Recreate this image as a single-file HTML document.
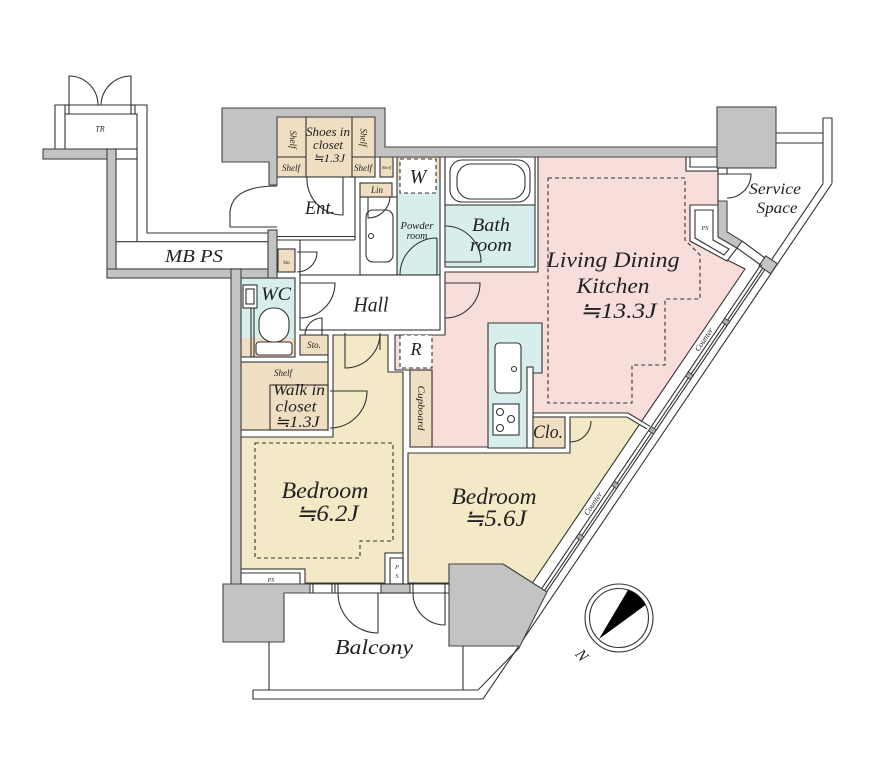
<!DOCTYPE html>
<html><head><meta charset="utf-8"><title>Floor plan</title>
<style>
html,body{margin:0;padding:0;background:#fff;width:888px;height:762px;overflow:hidden}
svg{display:block}
text{font-family:"Liberation Serif","Noto Serif CJK SC","Noto Sans CJK JP",serif;font-style:italic;fill:#222}
.l{fill:none;stroke:#333;stroke-width:1.1}
.w{fill:#fff;stroke:#333;stroke-width:1.1}
.g{fill:#c3c3c3;stroke:#444;stroke-width:1.1}
.pk{fill:#f7dedb;stroke:#333;stroke-width:1.1}
.bg{fill:#f4e9c7;stroke:#333;stroke-width:1.1}
.tn{fill:#efdec1;stroke:#333;stroke-width:1.1}
.lb{fill:#d7eeec;stroke:#333;stroke-width:1.1}
.d{fill:none;stroke:#333;stroke-width:1.1;stroke-dasharray:4 3}
.dw{fill:#fff;stroke:#333;stroke-width:1.1;stroke-dasharray:4 3}
</style></head><body>
<svg width="888" height="762" viewBox="0 0 888 762" xmlns="http://www.w3.org/2000/svg">

<!-- diagonal facade band -->
<g transform="translate(642.5,420) rotate(-55.9)">
  <line class="l" x1="-196" y1="11" x2="194" y2="11"/>
  <line class="l" x1="-196" y1="14.5" x2="194" y2="14.5"/>
  <line class="l" x1="-196" y1="17" x2="297.3" y2="17"/>
  <line class="l" x1="-320.2" y1="24.3" x2="302.3" y2="24.3"/>
  <rect x="-134.5" y="11" width="5" height="6" fill="#aaa" stroke="#333" stroke-width="0.8"/>
  <rect x="-71.5" y="11" width="5" height="6" fill="#aaa" stroke="#333" stroke-width="0.8"/>
  <rect x="-5.5" y="11" width="5" height="6" fill="#aaa" stroke="#333" stroke-width="0.8"/>
  <rect x="60.5" y="11" width="5" height="6" fill="#aaa" stroke="#333" stroke-width="0.8"/>
  <rect x="125.5" y="11" width="5" height="6" fill="#aaa" stroke="#333" stroke-width="0.8"/>
  <rect x="193" y="10" width="12" height="14" class="g"/>
  <text x="101" y="8.5" font-size="8" text-anchor="middle">Counter</text>
  <text x="-97" y="8.5" font-size="8" text-anchor="middle">Counter</text>
</g>

<!-- service space outer walls -->
<path class="l" d="M823,183 V118 H832 V183"/>
<path class="l" d="M776,133 H823 M776,143 H823"/>
<path class="l" d="M742,241 L765,258 M737,248 L762,266"/>

<!-- balcony -->
<path class="l" d="M269,642 V690 M463,646 V690"/>
<path class="l" d="M253,690 H478 L520,647"/>
<path class="l" d="M253,690 V699 H483.3"/>

<!-- top-left shaft -->
<path class="l" d="M55,149 V105 H147 V233 H268"/>
<path class="l" d="M65,149 V114 H137 V241.7"/>
<rect class="w" x="116" y="241.7" width="152" height="27.3"/>
<rect class="w" x="116" y="149" width="21" height="10"/>
<rect class="w" x="65" y="105" width="4" height="9"/>
<rect class="w" x="131" y="105" width="4" height="9"/>
<path class="l" d="M69,105 V76 A29,29 0 0 1 98,105"/>
<path class="l" d="M131,105 V76 A30,30 0 0 0 101,105"/>

<!-- rooms -->
<polygon class="pk" points="538,157 686,157 686,171 718,171 718,205 690,205 690,241 745,269 641.6,421.2 628,413 533,413 533,447 432,447 432,370 395,370 395,335 445,335 445,272 538,272"/>
<path class="d" d="M548,178 H685 V240 L700,255 V299 H665 V365 H632 V403 H548 Z"/>
<polygon class="bg" points="408,453 570,453 570,417 627,417 639.4,424.5 532.5,582.8 503,564 449,564 449,583 408,583"/>
<path class="l" d="M641.6,421.2 L650,426.3 M639.4,424.5 L647,429"/>
<polygon class="bg" points="241,437 333,437 333,335 388,335 388,372 403,372 403,583 241,583"/>
<path class="l" d="M328,335 V430"/>
<path class="d" d="M255,443 H393 V541 H360 V558 H255 Z"/>

<!-- kitchen -->
<path class="lb" d="M488,323 H542 V373 H533 V448 H488 Z"/>
<rect class="w" x="527" y="367" width="6" height="81"/>
<rect class="w" x="495" y="343" width="26" height="50" rx="4"/>
<circle class="w" cx="514" cy="369" r="2.5"/>
<rect class="w" x="493" y="404" width="26" height="31"/>
<circle class="w" cx="500" cy="412" r="3.5"/>
<circle class="w" cx="511" cy="419" r="3.5"/>
<circle class="w" cx="500" cy="428" r="3.5"/>

<!-- Clo / cupboard / R -->
<rect class="tn" x="533" y="417" width="32" height="31"/>
<rect class="tn" x="410" y="370" width="22" height="77"/>
<rect class="dw" x="400" y="335" width="32" height="33"/>

<!-- bath -->
<rect class="lb" x="445" y="157" width="90" height="110"/>
<rect class="w" x="445" y="157" width="90" height="48"/>
<rect class="w" x="450" y="160" width="80" height="42" rx="12"/>
<rect class="w" x="457" y="164" width="68" height="35" rx="14"/>

<!-- powder -->
<rect x="397" y="157" width="43" height="23" fill="#efdec1"/>
<rect x="397" y="180" width="43" height="95" fill="#d7eeec"/>
<rect class="l" x="397" y="157" width="43" height="118"/>
<rect class="dw" x="400" y="159" width="36" height="34"/>

<!-- washroom -->
<rect class="w" x="360" y="197" width="37" height="78"/>
<rect class="tn" x="360" y="183" width="32" height="14"/>
<rect class="w" x="366" y="210" width="27" height="52" rx="7"/>
<circle class="w" cx="371" cy="236" r="2.5"/>
<rect class="tn" x="380" y="157" width="13" height="20"/>

<!-- shoe closet -->
<rect class="tn" x="277" y="117" width="98" height="60"/>
<path class="l" d="M306,117 V177 M352,117 V177 M277,157 H306 M352,157 H375"/>

<!-- Ent / corridor / hall -->
<path class="l" d="M355,177 V240 M277,236.5 H355 M277,240 H355 M300,240 V278"/>
<rect class="tn" x="278" y="249" width="17" height="23"/>
<rect class="w" x="300" y="275" width="140" height="55"/>

<!-- WC -->
<rect x="241" y="278" width="54" height="60" fill="#d7eeec"/>
<rect x="241" y="338" width="54" height="19" fill="#efdec1"/>
<rect class="l" x="241" y="278" width="54" height="79"/>
<rect class="w" x="243" y="285" width="14" height="23"/>
<rect class="l" x="246" y="289" width="8" height="15"/>
<path class="l" d="M251,308 V357 M254,308 V357"/>
<rect class="w" x="259" y="308" width="30" height="34" rx="14"/>
<rect class="w" x="256" y="342" width="36" height="13" rx="3"/>
<rect class="tn" x="300" y="335" width="28" height="20"/>

<!-- WIC -->
<rect class="tn" x="241" y="362" width="87" height="68"/>
<rect class="l" x="270" y="385" width="58" height="45"/>

<!-- PS boxes -->
<rect class="w" x="241" y="569" width="64" height="15"/>
<path class="l" d="M241,573 H300 V584"/>
<rect class="w" x="385" y="553" width="18" height="31"/>
<rect class="l" x="390" y="558" width="13" height="26"/>

<!-- LDK top-right closet & service PS -->
<rect class="w" x="686" y="157" width="32" height="14"/>
<path class="l" d="M690,157 V167 H718"/>
<polygon class="w" points="690,205 718,205 718,237 737,248 727,261 690,241"/>
<polygon class="l" points="695,210 713,210 713,240 729,249 724,255 695,238"/>

<!-- LDK/bedroom wall -->
<path class="l" d="M533,413 H628"/>

<!-- gray walls -->
<polygon class="g" points="222,108 385,108 385,147 717,147 717,157 375,157 375,117 277,117 277,185 269,185 269,162 222,162"/>
<rect class="g" x="717" y="107" width="59" height="61"/>
<rect class="g" x="43" y="149" width="73" height="10"/>
<rect class="g" x="107" y="149" width="9" height="129"/>
<rect class="g" x="107" y="269" width="170" height="9"/>
<rect class="g" x="268" y="230" width="9" height="48"/>
<rect class="g" x="231" y="269" width="10" height="316"/>
<polygon class="g" points="223,584 310,584 310,593 284,593 284,642 223,642"/>
<rect class="g" x="381" y="584" width="29" height="9"/>
<polygon class="g" points="449,564 503,564 547,592 520,646 449,646"/>
<polygon class="g" points="718,201 727,201 727,232 742,241 737,248 718,237"/>
<rect class="w" x="718" y="168" width="9" height="6"/>

<!-- bottom window frame -->
<path class="l" d="M310,584 H449 M310,593 H449 M313,584 V593 M332,584 V593 M335,584 V593 M338,584 V593 M413,584 V593 M445,584 V593"/>

<!-- doors -->
<path class="l" d="M277,186 Q232,186 230,212 V227 H277"/>
<path class="l" d="M343,177 V215 A36,36 0 0 1 307,177"/>
<path class="l" d="M368,197 V218 A22,22 0 0 0 390,197"/>
<path class="l" d="M297,252 H317 A20,20 0 0 1 297,272"/>
<path class="l" d="M437,238 V275 M437,238 A37,37 0 0 0 400,275"/>
<path class="l" d="M445,226 A36,36 0 0 1 481,262 H445"/>
<path class="l" d="M445,283 H480 A35,35 0 0 1 445,318"/>
<path class="l" d="M300,283 H335 A35,35 0 0 1 300,318"/>
<path class="l" d="M305,335 A17,17 0 0 1 322,318 V335"/>
<path class="l" d="M330,391 H367 A37,37 0 0 1 330,428"/>
<path class="l" d="M345,333 V368 A35,35 0 0 0 380,333 M380,333 V350"/>
<path class="l" d="M570,421 V443 M591,421 A21,21 0 0 1 570,442"/>
<path class="l" d="M727,174 H751 A24,24 0 0 1 727,198"/>
<path class="l" d="M338,593 A40,40 0 0 0 378,633 V593"/>
<path class="l" d="M413,593 A32,32 0 0 0 445,625 V593"/>

<!-- compass -->
<circle class="w" cx="619" cy="618" r="34"/>
<circle class="l" cx="619" cy="618" r="29.5"/>
<path d="M599,639 L628,590 A29.5,29.5 0 0 1 645.5,605 Z" fill="#000"/>
<text transform="translate(582,655) rotate(50)" x="0" y="5.5" font-size="16" text-anchor="middle">N</text>

<!-- labels -->
<text x="100" y="131.5" font-size="8" text-anchor="middle">TR</text>
<text x="194" y="262" font-size="18" text-anchor="middle" textLength="58" lengthAdjust="spacingAndGlyphs">MB PS</text>
<text transform="translate(293,139.5) rotate(90)" x="0" y="3" font-size="9" text-anchor="middle">Shelf</text>
<text transform="translate(363.5,137.5) rotate(90)" x="0" y="3" font-size="9" text-anchor="middle">Shelf</text>
<text x="291" y="171" font-size="9" text-anchor="middle">Shelf</text>
<text x="363" y="171" font-size="9" text-anchor="middle">Shelf</text>
<text x="386.5" y="169" font-size="4.5" text-anchor="middle">Shelf</text>
<text x="328" y="136" font-size="13" text-anchor="middle" textLength="44" lengthAdjust="spacingAndGlyphs">Shoes in</text>
<text x="328" y="149" font-size="13" text-anchor="middle" textLength="30" lengthAdjust="spacingAndGlyphs">closet</text>
<text x="329" y="162" font-size="12" text-anchor="middle" textLength="32" lengthAdjust="spacingAndGlyphs">≒1.3J</text>
<text x="320" y="214" font-size="19" text-anchor="middle" textLength="30" lengthAdjust="spacingAndGlyphs">Ent.</text>
<text x="418" y="183" font-size="20" text-anchor="middle">W</text>
<text x="377" y="193" font-size="9" text-anchor="middle">Lin</text>
<text x="417" y="229" font-size="10" text-anchor="middle" textLength="33" lengthAdjust="spacingAndGlyphs">Powder</text>
<text x="417" y="239" font-size="10" text-anchor="middle">room</text>
<text x="287" y="264" font-size="5" text-anchor="middle">Sto.</text>
<text x="491" y="231" font-size="19" text-anchor="middle" textLength="38" lengthAdjust="spacingAndGlyphs">Bath</text>
<text x="491" y="251" font-size="19" text-anchor="middle" textLength="42" lengthAdjust="spacingAndGlyphs">room</text>
<text x="613" y="267" font-size="22" text-anchor="middle" textLength="133" lengthAdjust="spacingAndGlyphs">Living Dining</text>
<text x="613" y="293" font-size="22" text-anchor="middle" textLength="73" lengthAdjust="spacingAndGlyphs">Kitchen</text>
<text x="618" y="318" font-size="22" text-anchor="middle" textLength="77" lengthAdjust="spacingAndGlyphs">≒13.3J</text>
<text x="775" y="194" font-size="16" text-anchor="middle" textLength="52" lengthAdjust="spacingAndGlyphs">Service</text>
<text x="777" y="213" font-size="16" text-anchor="middle" textLength="41" lengthAdjust="spacingAndGlyphs">Space</text>
<text x="705" y="230" font-size="6" text-anchor="middle">PS</text>
<text x="276" y="300" font-size="19" text-anchor="middle" textLength="30" lengthAdjust="spacingAndGlyphs">WC</text>
<text x="371" y="311.5" font-size="21" text-anchor="middle" textLength="35" lengthAdjust="spacingAndGlyphs">Hall</text>
<text x="314" y="348" font-size="9" text-anchor="middle">Sto.</text>
<text x="416" y="355" font-size="18" text-anchor="middle">R</text>
<text transform="translate(421,408) rotate(90)" x="0" y="3" font-size="9" text-anchor="middle" textLength="45" lengthAdjust="spacingAndGlyphs">Cupboard</text>
<text x="283" y="376" font-size="9" text-anchor="middle">Shelf</text>
<text x="299" y="395" font-size="16" text-anchor="middle" textLength="52" lengthAdjust="spacingAndGlyphs">Walk in</text>
<text x="296" y="411.5" font-size="16" text-anchor="middle" textLength="41" lengthAdjust="spacingAndGlyphs">closet</text>
<text x="297" y="427" font-size="16" text-anchor="middle" textLength="45" lengthAdjust="spacingAndGlyphs">≒1.3J</text>
<text x="548" y="438" font-size="19" text-anchor="middle" textLength="30" lengthAdjust="spacingAndGlyphs">Clo.</text>
<text x="325" y="498" font-size="23" text-anchor="middle" textLength="87" lengthAdjust="spacingAndGlyphs">Bedroom</text>
<text x="327" y="521" font-size="23" text-anchor="middle" textLength="63" lengthAdjust="spacingAndGlyphs">≒6.2J</text>
<text x="494" y="504" font-size="23" text-anchor="middle" textLength="85" lengthAdjust="spacingAndGlyphs">Bedroom</text>
<text x="495" y="526" font-size="23" text-anchor="middle" textLength="63" lengthAdjust="spacingAndGlyphs">≒5.6J</text>
<text x="271" y="582" font-size="6" text-anchor="middle">PS</text>
<text x="397" y="569" font-size="6" text-anchor="middle">P</text>
<text x="397" y="578" font-size="6" text-anchor="middle">S</text>
<text x="374" y="654" font-size="21" text-anchor="middle" textLength="78" lengthAdjust="spacingAndGlyphs">Balcony</text>
</svg>
</body></html>
